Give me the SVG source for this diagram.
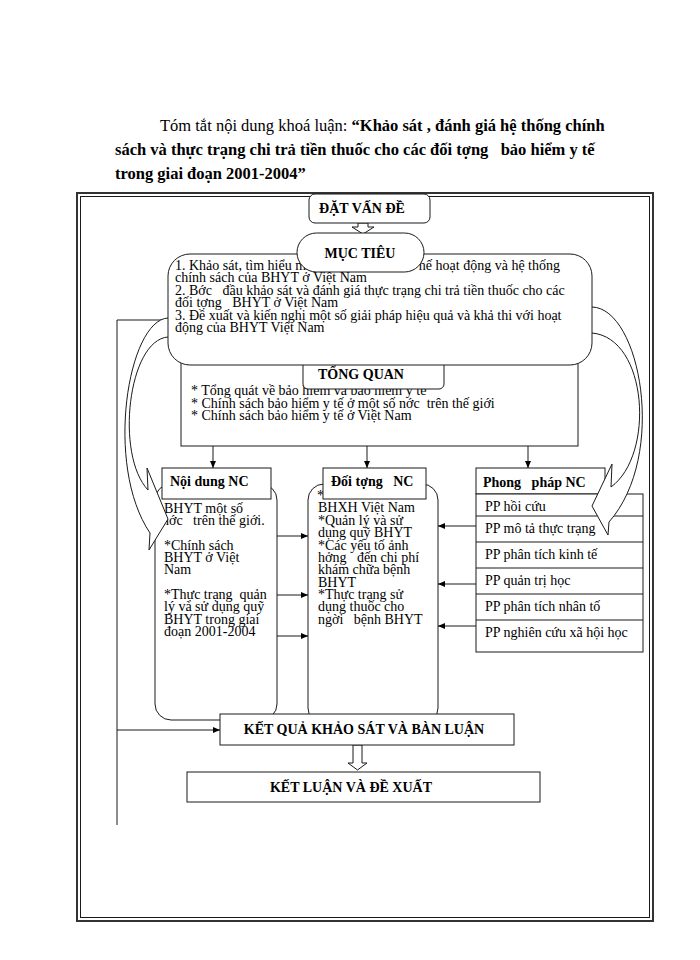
<svg xmlns="http://www.w3.org/2000/svg" width="700" height="960" viewBox="0 0 700 960">
<style>
.ln{fill:none;stroke:#1a1a1a;stroke-width:1}
.bx{fill:#fff;stroke:#1a1a1a;stroke-width:1}
.t{font-family:"Liberation Serif","DejaVu Serif",serif;fill:#000;white-space:pre}
.s{font-size:14px}
.h{font-size:14px;font-weight:bold}
.c{font-size:14px;font-weight:bold;text-anchor:middle}
.b{font-weight:bold}
</style>
<defs>
<marker id="ah" markerWidth="8" markerHeight="8" refX="7" refY="4" orient="auto" markerUnits="userSpaceOnUse">
<path d="M0,1 L7,4 L0,7 Z" fill="#000"/>
</marker>
</defs>
<rect width="700" height="960" fill="#fff"/>

<g id="title">
<text class="t" font-size="16.5" x="160" y="131" xml:space="preserve">Tóm tắt nội dung khoá luận: <tspan class="b">“Khảo sát , đánh giá hệ thống chính</tspan></text>
<text class="t b" font-size="16.5" x="115" y="155" xml:space="preserve">sách và thực trạng chi trả tiền thuốc cho các đối tợng   bảo hiểm y tế</text>
<text class="t b" font-size="16.5" x="115" y="179" xml:space="preserve">trong giai đoạn 2001-2004”</text>
</g>

<g id="frame">
<rect x="77" y="193" width="576" height="728" fill="none" stroke="#333" stroke-width="2"/>
<rect x="80.5" y="196.5" width="569" height="721" class="ln"/>
</g>

<g id="tong-quan">
<rect x="181" y="350" width="397" height="96" class="bx"/>
<text class="t s" x="191" y="395" xml:space="preserve">* Tổng quát về bảo hiểm và bảo hiểm y tế</text>
<text class="t s" x="191" y="408" xml:space="preserve">* Chính sách bảo hiểm y tế ở một số nớc  trên thế giới</text>
<text class="t s" x="191" y="420" xml:space="preserve">* Chính sách bảo hiểm y tế ở Việt Nam</text>
<rect x="303" y="340" width="141" height="49" rx="5" class="bx"/>
<text class="t c" x="361" y="379" font-size="14.5">TỔNG QUAN</text>
</g>

<g id="noi-dung">
<rect x="155" y="484" width="122" height="236" rx="16" class="bx"/>
<rect x="162" y="468" width="109" height="31" class="bx"/>
<text class="t h" x="170" y="486">Nội dung NC</text>
<text class="t s" x="164" y="513">BHYT một số</text>
<text class="t s" x="162" y="525" xml:space="preserve">nớc   trên thế giới.</text>
<text class="t s" x="164" y="550">*Chính sách</text>
<text class="t s" x="164" y="562">BHYT ở Việt</text>
<text class="t s" x="164" y="574">Nam</text>
<text class="t s" x="164" y="599" xml:space="preserve">*Thực trạng  quản</text>
<text class="t s" x="164" y="611">lý và sử dụng quỹ</text>
<text class="t s" x="164" y="624">BHYT trong giai</text>
<text class="t s" x="164" y="636">đoạn 2001-2004</text>
</g>

<g id="doi-tuong">
<rect x="308" y="484" width="130" height="240" rx="16" class="bx"/>
<text class="t s" x="317" y="500">*</text>
<rect x="323" y="468" width="103" height="31" class="bx"/>
<text class="t h" x="331" y="486" xml:space="preserve">Đối tợng   NC</text>
<text class="t s" x="318" y="512">BHXH Việt Nam</text>
<text class="t s" x="318" y="525">*Quản lý và sử</text>
<text class="t s" x="318" y="537">dụng quỹ BHYT</text>
<text class="t s" x="318" y="550">*Các yếu tố ảnh</text>
<text class="t s" x="318" y="562" xml:space="preserve">hởng   đến chi phí</text>
<text class="t s" x="318" y="574">khám chữa bệnh</text>
<text class="t s" x="318" y="587">BHYT</text>
<text class="t s" x="318" y="599">*Thực trạng sử</text>
<text class="t s" x="318" y="611">dụng thuốc cho</text>
<text class="t s" x="318" y="624" xml:space="preserve">ngời   bệnh BHYT</text>
</g>

<g id="phuong-phap">
<rect x="476" y="468" width="129" height="26" class="bx"/>
<text class="t h" x="483" y="487" xml:space="preserve">Phong   pháp NC</text>
<rect x="476" y="494" width="167" height="158" class="bx"/>
<path class="ln" d="M476,516H643M476,542H643M476,568H643M476,594H643M476,620H643"/>
<text class="t s" x="485" y="511">PP hồi cứu</text>
<text class="t s" x="485" y="533">PP mô tả thực trạng</text>
<text class="t s" x="485" y="559">PP phân tích kinh tế</text>
<text class="t s" x="485" y="585">PP quản trị học</text>
<text class="t s" x="485" y="611">PP phân tích nhân tố</text>
<text class="t s" x="485" y="637">PP nghiên cứu xã hội học</text>
</g>

<g id="connectors">
<path class="ln" d="M117,320V825M117,320H168"/>
<path class="ln" d="M117,730H220" marker-end="url(#ah)"/>
<path class="ln" d="M213,446V468" marker-end="url(#ah)"/>
<path class="ln" d="M367,446V468" marker-end="url(#ah)"/>
<path class="ln" d="M528,446V468" marker-end="url(#ah)"/>
<path class="ln" d="M277,536H308" marker-end="url(#ah)"/>
<path class="ln" d="M277,595H308" marker-end="url(#ah)"/>
<path class="ln" d="M277,636H308" marker-end="url(#ah)"/>
<path class="ln" d="M476,526H438" marker-end="url(#ah)"/>
<path class="ln" d="M476,584H438" marker-end="url(#ah)"/>
<path class="ln" d="M476,626H438" marker-end="url(#ah)"/>
<path class="bx" d="M168,318 C128,320 104,465 150,533 L149,550 L168,519 L147,468 L148,490 C115,455 128,340 168,337"/>
<path class="bx" d="M592,307 C640,308 668,455 609,522 L608,535 L592,506 L612,464 L611,487 C655,455 648,338 592,333"/>
<path class="bx" d="M358,223H368V227H374L363,234L352,227H358Z"/>
<path class="bx" d="M353,745H362V763H367L357.5,770L348,763H353Z"/>
</g>

<g id="muc-tieu">
<rect x="168" y="254" width="424" height="111" rx="22" class="bx"/>
<text class="t s" x="175" y="270">1. Khảo sát, tìm hiểu m</text>
<text class="t s" x="560" y="270" text-anchor="end">hế hoạt động và hệ thống</text>
<text class="t s" x="175" y="282">chính sách của BHYT ở Việt Nam</text>
<text class="t s" x="175" y="295" xml:space="preserve">2. Bớc   đầu khảo sát và đánh giá thực trạng chi trả tiền thuốc cho các</text>
<text class="t s" x="175" y="307" xml:space="preserve">đối tợng   BHYT ở Việt Nam</text>
<text class="t s" x="175" y="320">3. Đề xuất và kiến nghị một số giải pháp hiệu quả và khả thi với hoạt</text>
<text class="t s" x="175" y="332">động của BHYT Việt Nam</text>
<rect x="297" y="233" width="127" height="39" rx="19.5" class="bx"/>
<text class="t c" x="360" y="258">MỤC TIÊU</text>
</g>

<g id="dat-van-de">
<rect x="309" y="194" width="121" height="29" rx="6" class="bx"/>
<text class="t c" x="362" y="213" font-size="14.5">ĐẶT VẤN ĐỀ</text>
</g>

<g id="ket-qua">
<rect x="220" y="714" width="294" height="31" class="bx"/>
<text class="t c" x="364" y="734">KẾT QUẢ KHẢO SÁT VÀ BÀN LUẬN</text>
</g>

<g id="ket-luan">
<rect x="187" y="772" width="353" height="30" class="bx"/>
<text class="t c" x="351" y="792">KẾT LUẬN VÀ ĐỀ XUẤT</text>
</g>
</svg>
